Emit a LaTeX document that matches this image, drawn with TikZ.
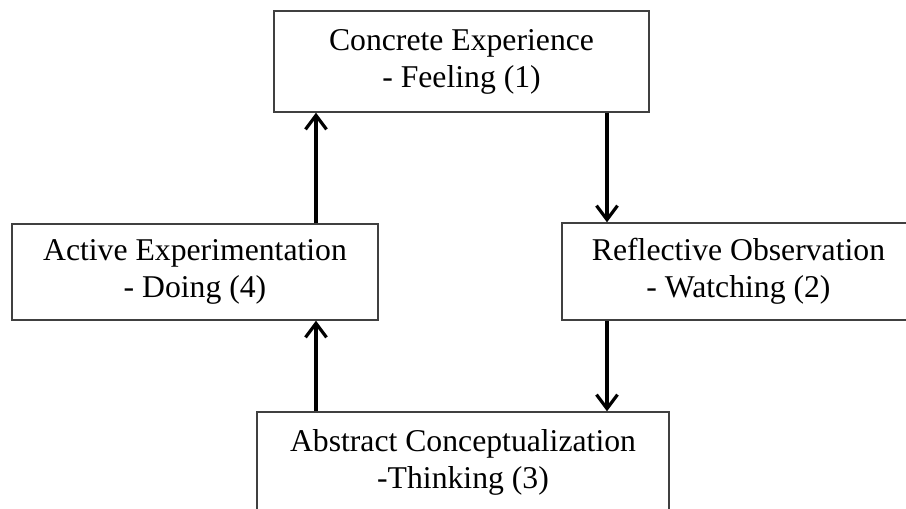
\documentclass[tikz,border=0pt]{standalone}
\usepackage{fontspec}
\setmainfont{Liberation Serif}
\usetikzlibrary{arrows.meta}
\begin{document}
\begin{tikzpicture}[x=1pt,y=1pt,
  stagebox/.style={draw=black!75, line width=1.4pt, align=center, inner sep=0pt,
    font=\fontsize{31.7}{37}\selectfont},
  flow/.style={line width=3.8pt, -{Straight Barb[length=14pt,width=21pt,line width=3.2pt]}}]
\useasboundingbox (0,0) rectangle (906,509);
\clip (0,0) rectangle (906,509);
\node[stagebox, minimum width=375pt, minimum height=101pt] (ce) at (461.5,447.5)
  {Concrete Experience\\- Feeling (1)};
\node[stagebox, minimum width=366pt, minimum height=96pt] (ae) at (195,237)
  {Active Experimentation\\- Doing (4)};
\node[stagebox, minimum width=353pt, minimum height=97pt] (ro) at (738.5,237.5)
  {Reflective Observation\\- Watching (2)};
\node[stagebox, minimum width=412pt, minimum height=101pt] (ac) at (463,46.5)
  {Abstract Conceptualization\\-Thinking (3)};
\coordinate (xl) at (316,0);
\coordinate (xr) at (607,0);
\draw[flow] (xl |- ae.north) -- (xl |- ce.south);
\draw[flow] (xr |- ce.south) -- (xr |- ro.north);
\draw[flow] (xr |- ro.south) -- (xr |- ac.north);
\draw[flow] (xl |- ac.north) -- (xl |- ae.south);
\end{tikzpicture}
\end{document}
